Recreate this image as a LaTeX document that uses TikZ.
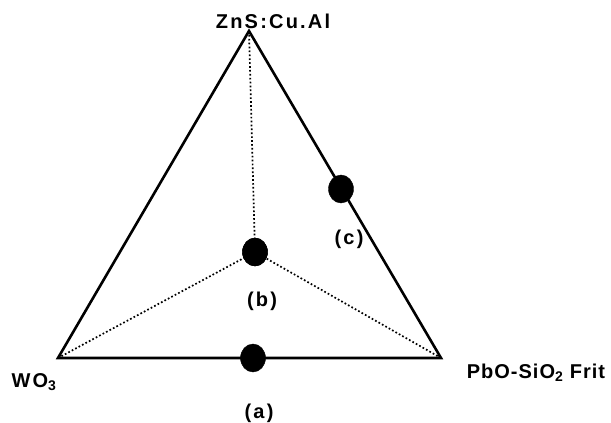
\documentclass[tikz,border=0pt]{standalone}
\usepackage{fontspec}
\setmainfont{Liberation Sans}
\usetikzlibrary{positioning,shapes.geometric}
\tikzset{
  % fasdiagram
  side/.style={draw=black,line width=2.6pt,line join=miter},
  tie/.style={draw=black,line width=1.7pt,dash pattern=on 1.7pt off 2.2pt},
  spot/.style={ellipse,fill=black,draw=black,inner sep=0pt,
               minimum width=25pt,minimum height=28pt},
  lbl/.style={font=\fontsize{20}{22}\selectfont\bfseries\addfontfeature{LetterSpace=11},
              inner sep=0pt,text=black},
  tight/.style={font=\fontsize{20}{22}\selectfont\bfseries\addfontfeature{LetterSpace=5}},
}
\begin{document}
\begin{tikzpicture}[x=1pt,y=-1pt]
\useasboundingbox (0,0) rectangle (611,423);
  \coordinate (zns) at (249,31);
  \coordinate (wo) at (58,358);
  \coordinate (pbo) at (441,358);
  \node[spot] (a) at (253,358) {};
  \node[spot] (b) at (255,252) {};
  \node[spot] (c) at (341,189) {};
  \draw[tie] (zns) -- (b.center);
  \draw[tie] (wo) -- (b.center);
  \draw[tie] (pbo) -- (b.center);
  \draw[side] (wo) -- (zns) -- (pbo) -- cycle;
  \node[spot] at (b) {};
  \node[lbl] (lzns) at (273,21) {ZnS:Cu.Al};
  \node[lbl] (lwo) at (34,382) {WO\textsubscript{3}};
  \node[lbl,tight] (lpbo) at (536,373) {PbO-SiO\textsubscript{2} Frit};
  \node[lbl] (la) at (259,413) {(a)};
  \node[lbl] (lb) at (262,301) {(b)};
  \node[lbl] (lc) at (349,239) {(c)};
\end{tikzpicture}
\end{document}
